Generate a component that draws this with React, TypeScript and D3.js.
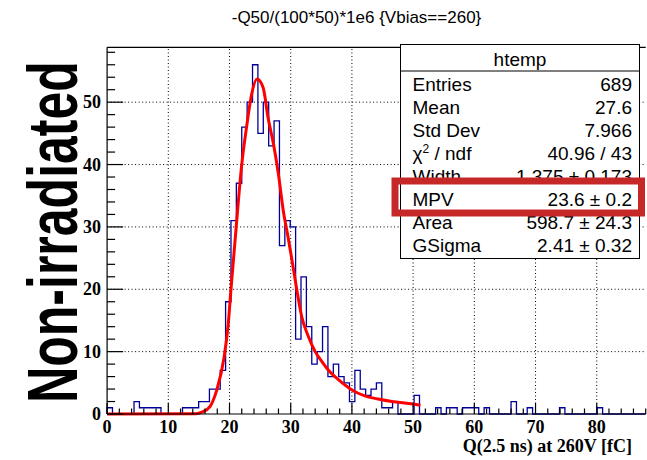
import React from "react";
import * as d3 from "d3";

// ---- data ----
const binLow = 0;
const binWidth = 0.88;
const counts = [
  1, 0, 0, 0, 0, 2, 1, 1, 1, 1,
  0, 0, 0, 0, 1, 1, 1, 2, 2, 4,
  4, 7, 18, 31, 37, 46, 50, 56, 45, 50,
  43, 47, 27, 31, 30, 12, 22, 14, 8, 10,
  14, 6, 8, 6, 5, 2, 7, 4, 3, 4,
  5, 1, 1, 2, 0, 0, 0, 3, 0, 0,
  0, 1, 0, 1, 1, 0, 1, 1, 1, 0,
  1, 0, 0, 0, 0, 2, 0, 0, 1, 0,
  0, 0, 0, 0, 1, 0, 0, 0, 0, 0,
  0, 1, 0, 0, 0, 0, 0, 0, 0, 0,
];
const fitX = [0, 14.5, 15.5, 16.8, 17.9, 19.1, 19.8, 20.2, 21.05, 22.0, 22.8, 23.6, 24.5, 25.5, 26.3, 27.2, 28.0, 28.8, 29.6, 30.2, 31.0, 31.8, 32.9, 34.0, 35.1, 36.1, 37.8, 40.0, 42.1, 44.3, 46.5, 50.0, 51.2];
const fitY = [0, 0.05, 0.3, 1.2, 3.8, 9.0, 14.5, 19.5, 29.5, 40, 46.1, 51.2, 53.7, 52.3, 47.5, 43.2, 38.4, 32.5, 28.2, 24.7, 19.9, 15.6, 12.4, 10.0, 8.4, 7.1, 5.5, 3.85, 2.9, 2.4, 2.0, 1.6, 1.4];
const xMajor = [0, 10, 20, 30, 40, 50, 60, 70, 80];
const yMajor = [0, 10, 20, 30, 40, 50];
const title = "-Q50/(100*50)*1e6 {Vbias==260}";
const xTitle = "Q(2.5 ns) at 260V [fC]";
const sideLabel = "Non-irradiated";
const statsName = "htemp";
const statLabels = ["Entries", "Mean", "Std Dev", "CHI2", "Width", "MPV", "Area", "GSigma"];
const statValues = ["689", "27.6", "7.966", "40.96 / 43", "1.375 \u00b1 0.173", "23.6 \u00b1 0.2", "598.7 \u00b1 24.3", "2.41 \u00b1 0.32"];

export default function App() {
  const W = 647, H = 460;
  const x = d3.scaleLinear().domain([0, 88]).range([107.1, 645.7]);
  const y = d3.scaleLinear().domain([0, 58.8]).range([414, 47.3]);
  const x0 = x(0), x1 = x(88), yb = y(0), yt = y(58.8);

  // histogram step path
  let p = `M${x(binLow)},${y(0)}`;
  counts.forEach((c, i) => {
    const lo = binLow + i * binWidth;
    const hi = lo + binWidth;
    p += `V${y(c)}H${x(hi)}`;
  });
  p += `V${y(0)}`;

  const fitLine = d3
    .line<number>()
    .x((_, i) => x(fitX[i]))
    .y((d) => y(d))
    .curve(d3.curveMonotoneX)(fitY) as string;

  const xMinor = d3.range(0, 89, 2).filter((v) => v % 10 !== 0);
  const yMinor = d3.range(0, 59, 2).filter((v) => v % 10 !== 0);

  const serif = "'Liberation Serif', 'Times New Roman', serif";
  const sans = "'Liberation Sans', Arial, Helvetica, sans-serif";

  const boxL = 400.5, boxR = 639.5, boxT = 44.5, boxB = 258.5;
  const rowBase = (i: number) => 91 + i * 23;

  return (
    <svg width={W} height={H} style={{ position: "absolute", left: 0, top: 0, background: "#fff" }}>
      <rect x={0} y={0} width={W} height={H} fill="#fff" />
      {/* title */}
      <text x={356.5} y={23} textAnchor="middle" fontFamily={sans} fontSize={17} fill="#000">
        {title}
      </text>
      {/* side label */}
      <text
        transform={`translate(77,232) rotate(-90) scale(1,1.4)`}
        textAnchor="middle"
        fontFamily={sans}
        fontWeight="bold"
        fontSize={50}
        fill="#000"
      >
        {sideLabel}
      </text>
      {/* grid */}
      <g stroke="#000" strokeWidth={1} strokeDasharray="1 2.5">
        {xMajor.filter((v) => v > 0).map((v) => (
          <line key={"gx" + v} x1={x(v)} x2={x(v)} y1={yb} y2={yt} />
        ))}
        {yMajor.filter((v) => v > 0).map((v) => (
          <line key={"gy" + v} x1={x0} x2={x1} y1={y(v)} y2={y(v)} />
        ))}
      </g>
      {/* histogram */}
      <path d={p} fill="none" stroke="#000099" strokeWidth={1.3} />
      {/* fit */}
      <path d={fitLine} fill="none" stroke="#ff0000" strokeWidth={3} />
      {/* frame / axes */}
      <g stroke="#000" strokeWidth={1.2} fill="none">
        <line x1={x0} x2={x1} y1={yt} y2={yt} />
        <line x1={x0} x2={x0} y1={yt} y2={yb} />
        <line x1={x0} x2={x1} y1={yb} y2={yb} />
        {xMajor.map((v) => (
          <line key={"tx" + v} x1={x(v)} x2={x(v)} y1={yb} y2={yb - 11} />
        ))}
        {xMinor.map((v) => (
          <line key={"mx" + v} x1={x(v)} x2={x(v)} y1={yb} y2={yb - 5.5} />
        ))}
        {yMajor.map((v) => (
          <line key={"ty" + v} x1={x0} x2={x0 + 16} y1={y(v)} y2={y(v)} />
        ))}
        {yMinor.map((v) => (
          <line key={"my" + v} x1={x0} x2={x0 + 8} y1={y(v)} y2={y(v)} />
        ))}
      </g>
      {/* tick labels */}
      <g fontFamily={serif} fontWeight="bold" fontSize={18} fill="#000">
        {xMajor.map((v) => (
          <text key={"lx" + v} x={x(v)} y={433} textAnchor="middle">
            {v}
          </text>
        ))}
        {yMajor.map((v) => (
          <text key={"ly" + v} x={101} y={y(v) + 6} textAnchor="end">
            {v}
          </text>
        ))}
      </g>
      <text x={632} y={452} textAnchor="end" fontFamily={serif} fontWeight="bold" fontSize={18} fill="#000">
        {xTitle}
      </text>
      {/* stats box */}
      <rect x={boxL} y={boxT} width={boxR - boxL} height={boxB - boxT} fill="#fff" stroke="#000" strokeWidth={1} />
      <line x1={boxL} x2={boxR} y1={71} y2={71} stroke="#000" strokeWidth={1} />
      <g fontFamily={sans} fontSize={19} fill="#000">
        <text x={(boxL + boxR) / 2} y={66} textAnchor="middle">
          {statsName}
        </text>
        {statLabels.map((l, i) => (
          <text key={"sl" + i} x={412.5} y={rowBase(i)}>
            {l === "CHI2" ? (
              <>
                {"\u03c7"}
                <tspan fontSize={12} dy={-7}>2</tspan>
                <tspan dy={7}>{" / ndf"}</tspan>
              </>
            ) : (
              l
            )}
          </text>
        ))}
        {statValues.map((v, i) => (
          <text key={"sv" + i} x={632} y={rowBase(i)} textAnchor="end">
            {v}
          </text>
        ))}
      </g>
      {/* highlight */}
      <rect x={395} y={181} width={246.5} height={32} fill="none" stroke="#c62828" strokeWidth={7} />
    </svg>
  );
}
